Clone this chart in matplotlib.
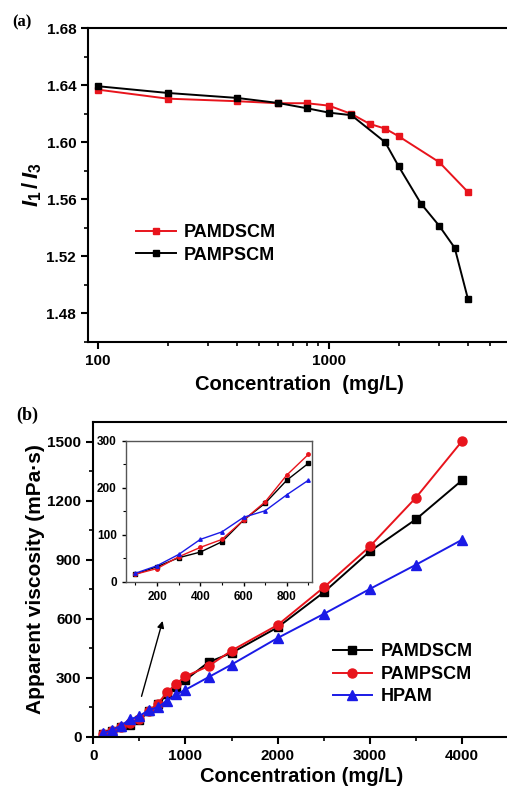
import matplotlib.pyplot as plt
import numpy as np
from matplotlib.ticker import MultipleLocator, FixedLocator, NullFormatter

plt.rcParams['font.family'] = ['Liberation Sans', 'DejaVu Sans']
plt.rcParams['font.weight'] = 'bold'
plt.rcParams['mathtext.fontset'] = 'custom'
plt.rcParams['mathtext.it'] = 'Liberation Sans:italic:bold'
plt.rcParams['mathtext.rm'] = 'Liberation Sans:bold'

# (a) I1/I3 vs concentration (log x)
a_dscm_x = [100, 200, 400, 600, 800, 1000, 1250, 1500, 1750, 2000, 3000, 4000]
a_dscm_y = [1.6368, 1.6305, 1.6287, 1.6273, 1.6273, 1.6256, 1.6198, 1.6128,
            1.6095, 1.6042, 1.586, 1.565]
a_pscm_x = [100, 200, 400, 600, 800, 1000, 1250, 1750, 2000, 2500, 3000, 3500, 4000]
a_pscm_y = [1.6392, 1.6345, 1.631, 1.6275, 1.6238, 1.6207, 1.6189, 1.600,
            1.5832, 1.557, 1.5414, 1.526, 1.4898]

# (b) apparent viscosity vs concentration
b_x = [100, 200, 300, 400, 500, 600, 700, 800, 900, 1000, 1250, 1500,
       2000, 2500, 3000, 3500, 4000]
b_dscm = [16, 32, 51, 63, 85, 131, 167, 216, 252, 290, 380, 427,
          557, 735, 943, 1106, 1304]
b_pscm = [16, 28, 53, 73, 90, 131, 170, 227, 271, 308, 360, 439,
          569, 760, 968, 1216, 1503]
b_hpam = [18, 34, 58, 90, 106, 137, 151, 185, 216, 240, 304, 368,
          503, 625, 752, 875, 1002]

W, H = 507, 787
fig = plt.figure(figsize=(W / 100, H / 100), dpi=100)


def style(ax, size=11):
    for s in ['left', 'bottom', 'top']:
        ax.spines[s].set_linewidth(1.5)
    ax.spines['right'].set_visible(False)
    ax.tick_params(which='major', direction='out', length=5, width=1.5,
                   labelsize=size, top=False, right=False)
    ax.tick_params(which='minor', direction='out', length=3, width=1.2,
                   top=False, right=False)
    for lab in ax.get_xticklabels() + ax.get_yticklabels():
        lab.set_fontweight('bold')


# ---- panel (a)
ax1 = fig.add_axes([88 / W, 1 - 342 / H, 422 / W, 314 / H])
ax1.plot(a_dscm_x, a_dscm_y, color='#e8141c', marker='s', ms=5, lw=1.4,
         label='PAMDSCM')
ax1.plot(a_pscm_x, a_pscm_y, color='black', marker='s', ms=5, lw=1.4,
         label='PAMPSCM')
ax1.set_xscale('log')
ax1.set_xlim(90.5, 6075)
ax1.set_ylim(1.46, 1.68)
ax1.yaxis.set_major_locator(FixedLocator([1.48, 1.52, 1.56, 1.60, 1.64, 1.68]))
ax1.yaxis.set_minor_locator(MultipleLocator(0.02))
ax1.set_xticks([100, 1000])
ax1.set_xticklabels(['100', '1000'])
ax1.xaxis.set_minor_formatter(NullFormatter())
ax1.yaxis.set_major_formatter(plt.FormatStrFormatter('%.2f'))
style(ax1)
ax1.set_xlabel('Concentration  (mg/L)', fontsize=14.5, fontweight='bold',
               labelpad=5)
ax1.set_ylabel(r'$I_1\,/\,I_3$', fontsize=16, labelpad=2)
ax1.legend(loc='upper left', bbox_to_anchor=(0.097, 0.398), borderaxespad=0,
           frameon=False, fontsize=13, handlelength=2.2, handletextpad=0.45,
           labelspacing=0.3)
fig.text(12 / W, 1 - 22 / H, '(a)', family='Liberation Serif', fontsize=12,
         fontweight='bold', va='center')

# ---- panel (b)
ax2 = fig.add_axes([93.3 / W, 1 - 737 / H, 416.7 / W, 315 / H])
ax2.plot(b_x, b_dscm, color='black', marker='s', ms=6, lw=1.4, label='PAMDSCM')
ax2.plot(b_x, b_pscm, color='#e8141c', marker='o', ms=6.5, lw=1.4, label='PAMPSCM')
ax2.plot(b_x, b_hpam, color='#1a1ae6', marker='^', ms=6.5, lw=1.4, label='HPAM')
ax2.set_xlim(0, 4520)
ax2.set_ylim(0, 1600)
ax2.xaxis.set_major_locator(MultipleLocator(1000))
ax2.xaxis.set_minor_locator(MultipleLocator(500))
ax2.yaxis.set_major_locator(FixedLocator([0, 300, 600, 900, 1200, 1500]))
ax2.yaxis.set_minor_locator(MultipleLocator(150))
style(ax2, size=11)
ax2.set_xlabel('Concentration (mg/L)', fontsize=14.5, fontweight='bold',
               labelpad=3)
ax2.set_ylabel('Apparent viscosity (mPa·s)', fontsize=15, fontweight='bold',
               labelpad=2)
ax2.legend(loc='upper left', bbox_to_anchor=(0.557, 0.32), borderaxespad=0,
           frameon=False, fontsize=13, handlelength=2.2, handletextpad=0.45,
           labelspacing=0.3)
ax2.annotate('', xy=(760, 603), xytext=(515, 193),
             arrowprops=dict(arrowstyle='-|>', color='black', lw=1,
                             mutation_scale=10))
fig.text(16 / W, 1 - 415 / H, '(b)', family='Liberation Serif', fontsize=13,
         fontweight='bold', va='center')

# inset
ax3 = fig.add_axes([125.7 / W, 1 - 581.7 / H, 186 / W, 141 / H])
n = 9
ax3.plot(b_x[:n], b_dscm[:n], color='black', marker='s', ms=2.5, lw=1)
ax3.plot(b_x[:n], b_pscm[:n], color='#e8141c', marker='o', ms=2.5, lw=1)
ax3.plot(b_x[:n], b_hpam[:n], color='#1a1ae6', marker='^', ms=2.5, lw=1)
ax3.set_xlim(55, 915)
ax3.set_ylim(0, 300)
ax3.xaxis.set_major_locator(FixedLocator([200, 400, 600, 800]))
ax3.xaxis.set_minor_locator(MultipleLocator(100))
ax3.yaxis.set_major_locator(MultipleLocator(100))
ax3.yaxis.set_minor_locator(MultipleLocator(50))
for s in ax3.spines.values():
    s.set_linewidth(1)
    s.set_color('#555555')
ax3.tick_params(which='major', direction='out', length=3, width=1, labelsize=8.5)
ax3.tick_params(which='minor', direction='out', length=2, width=0.8)
for lab in ax3.get_xticklabels() + ax3.get_yticklabels():
    lab.set_fontweight('bold')

fig.savefig('out.png', dpi=100)
